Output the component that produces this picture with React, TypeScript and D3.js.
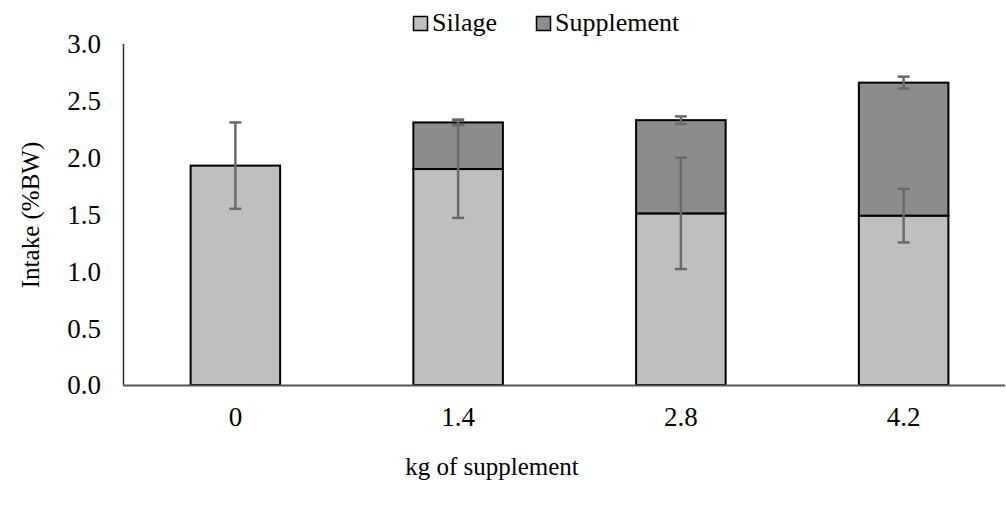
import React from "react";
import * as d3 from "d3";

const categories = ["0", "1.4", "2.8", "4.2"];
const silage = [1.93, 1.9, 1.51, 1.49];
const supplement = [0, 0.41, 0.82, 1.17];
const silageErr = [0.38, 0.43, 0.49, 0.236];
const supplementErr = [0, 0.025, 0.033, 0.053];
const yTicks = [0, 0.5, 1, 1.5, 2, 2.5, 3];

const W = 1006;
const H = 506;
const serif = { fontFamily: "'Liberation Serif', 'Times New Roman', serif" };

export default function App() {
  const x = d3
    .scaleBand<string>()
    .domain(categories)
    .range([124, 1015])
    .paddingInner(0.598)
    .paddingOuter(0.299);
  const y = d3.scaleLinear().domain([0, 3]).range([385, 44]);
  const bw = x.bandwidth();
  const cap = 6;

  const errBar = (cx: number, v: number, e: number, key: string) => {
    if (!e) return null;
    const t = y(v + e);
    const b = y(v - e);
    return (
      <g key={key} stroke="#6a6a6a" strokeWidth={2.5}>
        <line x1={cx} x2={cx} y1={t} y2={b} />
        <line x1={cx - cap} x2={cx + cap} y1={t} y2={t} />
        <line x1={cx - cap} x2={cx + cap} y1={b} y2={b} />
      </g>
    );
  };

  return (
    <svg width={W} height={H} style={{ position: "absolute", left: 0, top: 0, background: "#fff" }}>
      {/* y axis */}
      <line x1={123.5} x2={123.5} y1={y(3)} y2={y(0)} stroke="#333" strokeWidth={1.5} />
      {yTicks.map((t) => (
        <text
          key={t}
          x={101}
          y={y(t)}
          dy="0.35em"
          textAnchor="end"
          fontSize={27}
          fill="#000"
          style={serif}
        >
          {t.toFixed(1)}
        </text>
      ))}

      {/* bars */}
      {categories.map((c, i) => {
        const x0 = x(c)!;
        return (
          <g key={c}>
            <rect
              x={x0}
              y={y(silage[i])}
              width={bw}
              height={y(0) - y(silage[i])}
              fill="#bfbfbf"
              stroke="#000"
              strokeWidth={2}
            />
            {supplement[i] > 0 && (
              <rect
                x={x0}
                y={y(silage[i] + supplement[i])}
                width={bw}
                height={y(silage[i]) - y(silage[i] + supplement[i])}
                fill="#8c8c8c"
                stroke="#000"
                strokeWidth={2}
              />
            )}
          </g>
        );
      })}

      {/* error bars */}
      {categories.map((c, i) => {
        const cx = x(c)! + bw / 2;
        return (
          <g key={"e" + c}>
            {errBar(cx, silage[i], silageErr[i], "s")}
            {errBar(cx, silage[i] + supplement[i], supplementErr[i], "p")}
          </g>
        );
      })}

      {/* x axis */}
      <line x1={123} x2={1005} y1={385.5} y2={385.5} stroke="#555" strokeWidth={2} />
      {categories.map((c) => (
        <text
          key={c}
          x={x(c)! + bw / 2}
          y={417}
          dy="0.35em"
          textAnchor="middle"
          fontSize={27}
          style={serif}
        >
          {c}
        </text>
      ))}

      {/* axis titles */}
      <text x={492} y={466} dy="0.35em" textAnchor="middle" fontSize={25} style={serif}>
        kg of supplement
      </text>
      <text
        transform="translate(30,215) rotate(-90)"
        dy="0.35em"
        textAnchor="middle"
        fontSize={25}
        style={serif}
      >
        Intake (%BW)
      </text>

      {/* legend */}
      <g>
        <rect x={413.5} y={16.5} width={14} height={14} fill="#bfbfbf" stroke="#000" strokeWidth={1.5} />
        <text x={432} y={31} fontSize={26} style={serif}>
          Silage
        </text>
        <rect x={536.5} y={16.5} width={14} height={14} fill="#8c8c8c" stroke="#000" strokeWidth={1.5} />
        <text x={555} y={31} fontSize={26} style={serif}>
          Supplement
        </text>
      </g>
    </svg>
  );
}
